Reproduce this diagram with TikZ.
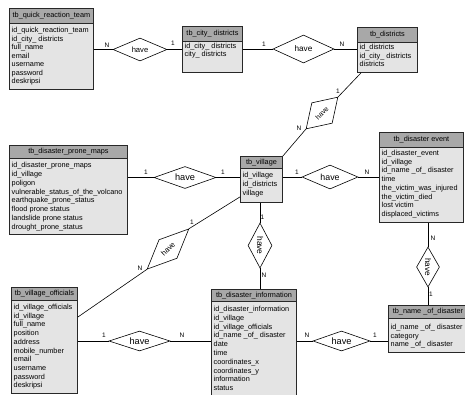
\documentclass[tikz,border=0pt]{standalone}
\usepackage{fontspec}
\setmainfont{Liberation Sans}
\usetikzlibrary{shapes.geometric,calc}
\definecolor{hdrgray}{RGB}{168,168,168}
\definecolor{bodygray}{RGB}{228,228,228}
\definecolor{edgegray}{RGB}{40,40,40}
\tikzset{
  hdr/.style={draw=edgegray, fill=hdrgray, line width=0.9pt, inner sep=0pt, anchor=north west, font=\fontsize{7.3}{8.7}\selectfont},
  bodybox/.style={draw=edgegray, fill=bodygray, line width=0.9pt, inner sep=0pt, anchor=north west},
  field/.style={anchor=base west, inner sep=0pt, font=\fontsize{7.3}{8.7}\selectfont},
  rel/.style={diamond, draw=black, fill=white, line width=0.6pt, inner sep=0pt, aspect=2.5},
  card/.style={inner sep=0pt, font=\fontsize{6.5}{7}\selectfont},
  conn/.style={draw=black, line width=0.6pt},
}
\def\rowsep{8.7}
% #1 name, #2 x left, #3 x right, #4 y top, #5 y header bottom, #6 y bottom, #7 title, #8 first baseline, #9 fields
\newcommand\ertab[9]{%
  \node[hdr, minimum width={#3pt-#2pt}, minimum height={#5pt-#4pt}] (#1-h) at (#2,-#4) {#7};
  \node[bodybox, minimum width={#3pt-#2pt}, minimum height={#6pt-#5pt}] (#1-b) at (#2,-#5) {};
  \foreach \f [count=\i] in {#9} {
    \node[field] (#1-f\i) at ({#2+2.5},{-#8-(\i-1)*\rowsep}) {\f};
  }
}
\begin{document}
\begin{tikzpicture}[x=1pt,y=1pt]
\useasboundingbox (0,0) rectangle (465,-394);
\fill[white] (0,0) rectangle (465,-394);
\clip (0,0) rectangle (465,-394);

\def\rowsep{8.5}
\ertab{qrt}{9}{93}{8}{23}{89}{tb\_quick\_reaction\_team}{32.5}{id\_quick\_reaction\_team,id\_city\_ districts,full\_name,email,username,password,deskripsi}
\ertab{city}{182}{242}{26}{41}{72}{tb\_city\_ districts}{48}{id\_city\_ districts,city\_ districts}
\ertab{districts}{357}{417}{27}{42}{72}{tb\_districts}{49.5}{id\_districts,id\_city\_ districts,districts}
\def\rowsep{8.86}
\ertab{prone}{9}{127}{145}{158}{234}{tb\_disaster\_prone\_maps}{167.5}{id\_disaster\_prone\_maps,id\_village,poligon,vulnerable\_status\_of\_the\_volcano,earthquake\_prone\_status,flood prone status,landslide prone status,drought\_prone\_status}
\def\rowsep{9}
\ertab{village}{240}{282}{156}{168}{202}{tb\_village}{177.5}{id\_village,id\_districts,village}
\def\rowsep{8.7}
\ertab{event}{379}{463}{132}{147}{222}{tb\_disaster event}{155.5}{id\_disaster\_event,id\_village,id\_name \_of\_ disaster,time,the\_victim\_was\_injured,the\_victim\_died,lost victim,displaced\_victims}
\ertab{officials}{11}{77}{287}{300}{393}{tb\_village\_officials}{309.5}{id\_village\_officials,id\_village,full\_name,position,address,mobile\_number,email,username,password,deskripsi}
\def\rowsep{8.8}
\ertab{info}{211}{296}{289}{301}{400}{tb\_disaster\_information}{311.5}{id\_disaster\_information,id\_village,id\_village\_officials,id\_name \_of\_ disaster,date,time,coordinates\_x,coordinates\_y,information,status}
\def\rowsep{8.5}
\ertab{name}{388}{467}{305}{318}{352}{tb\_name \_of\_disaster}{329.5}{id\_name \_of\_ disaster,category,name \_of\_ disaster}

% relationships
\node[rel, minimum width=54pt, minimum height=23pt, font=\fontsize{7.6}{8}\selectfont] (d1) at (140,-49.5) {have};
\node[rel, minimum width=61pt, minimum height=28pt, font=\fontsize{8.2}{9}\selectfont] (d2) at (303.5,-49) {have};
\node[rel, minimum width=62pt, minimum height=22pt, font=\fontsize{9.2}{10}\selectfont] (d3) at (185,-177.5) {have};
\node[rel, minimum width=56pt, minimum height=24pt, font=\fontsize{8.8}{10}\selectfont] (d4) at (330,-177) {have};
\node[rel, minimum width=61pt, minimum height=20pt, font=\fontsize{9.2}{10}\selectfont] (d5) at (139.5,-341) {have};
\node[rel, minimum width=57pt, minimum height=20pt, font=\fontsize{9.2}{10}\selectfont] (d6) at (341.5,-341) {have};
\node[rel, rotate=45, minimum width=45pt, minimum height=29pt, font=\fontsize{7}{8}\selectfont] (d7) at (322,-113) {have};
\node[rel, rotate=44, minimum width=58pt, minimum height=26pt, font=\fontsize{7.5}{8}\selectfont] (d8) at (168,-249) {have};
\node[rel, rotate=-90, minimum width=45pt, minimum height=24pt, font=\fontsize{8.4}{9}\selectfont] (d9) at (260,-245.5) {have};
\node[rel, rotate=-90, minimum width=40pt, minimum height=23pt, font=\fontsize{8.2}{9}\selectfont] (d10) at (428,-267) {have};

% named free ends
\coordinate (dsw) at ($(districts-b.south west)+(4,0)$);
\coordinate (vsw) at ($(village-b.south west)+(0,6)$);
\coordinate (oe) at ($(officials-b.north east)+(0,-17)$);

% connectors
\draw[conn] (qrt-b.east |- d1.west) -- (d1.west);
\draw[conn] (d1.east) -- (d1.east -| city-b.west);
\draw[conn] (city-b.east |- d2.west) -- (d2.west);
\draw[conn] (d2.east) -- (d2.east -| districts-b.west);
\draw[conn] (dsw) -- (d7.east);
\draw[conn] (d7.west) -- (village-h.north east);
\draw[conn] (prone-b.east |- d3.west) -- (d3.west);
\draw[conn] (d3.east) -- (d3.east -| village-b.west);
\draw[conn] (village-b.east |- d4.west) -- (d4.west);
\draw[conn] (d4.east) -- (d4.east -| event-b.west);
\draw[conn] (vsw) -- (d8.east);
\draw[conn] (d8.west) -- (oe);
\draw[conn] (d9.west) -- (d9.west |- village-b.south);
\draw[conn] (d9.east) -- (d9.east |- info-h.north);
\draw[conn] (d10.west) -- (d10.west |- event-b.south);
\draw[conn] (d10.east) -- (d10.east |- name-h.north);
\draw[conn] (officials-b.east |- d5.west) -- (d5.west);
\draw[conn] (d5.east) -- (d5.east -| info-b.west);
\draw[conn] (info-b.east |- d6.west) -- (d6.west);
\draw[conn] (d6.east) -- (d6.east -| name-b.west);

% cardinalities
\node[card] (c1a) at (107,-45) {N};
\node[card] (c1b) at (173,-43.5) {1};
\node[card] (c2a) at (264,-44) {1};
\node[card] (c2b) at (342,-44) {N};
\node[card] (c3a) at (146,-172) {1};
\node[card] (c3b) at (223,-172) {1};
\node[card] (c4a) at (297,-172) {1};
\node[card] (c4b) at (367,-172) {N};
\node[card] (c5a) at (104,-335) {1};
\node[card] (c5b) at (182,-335) {N};
\node[card] (c6a) at (307,-335) {N};
\node[card] (c6b) at (375,-335) {1};
\node[card] (c7a) at (338,-91) {1};
\node[card] (c7b) at (299,-128) {N};
\node[card] (c8a) at (192,-222) {1};
\node[card] (c8b) at (140,-268) {N};
\node[card] (c9a) at (262.5,-217) {1};
\node[card] (c9b) at (264,-275) {N};
\node[card] (c10a) at (433,-238) {N};
\node[card] (c10b) at (431,-294) {1};
\end{tikzpicture}
\end{document}
